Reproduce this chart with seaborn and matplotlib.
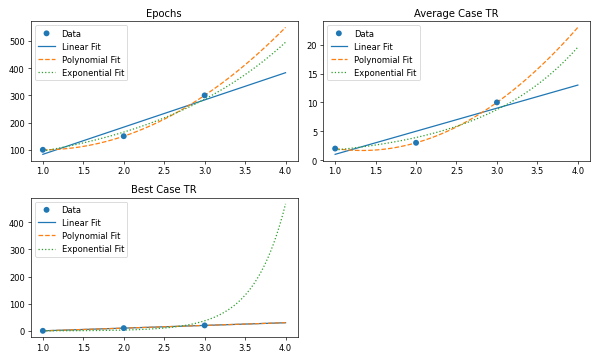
import matplotlib

matplotlib.use("Agg")
import matplotlib.pyplot as plt
import numpy as np
import pandas as pd
import seaborn as sns

X_DATA = [1, 2, 3]
EPOCHS = [100, 150, 300]
AVERAGE_CASE_TR = [2, 3, 10]
BEST_CASE_TR = [0.125, 10, 20]
TITLES = ["Epochs", "Average Case TR", "Best Case TR"]
X_MAX = 4


def fits(x, y):
    x = np.asarray(x, dtype=float)
    y = np.asarray(y, dtype=float)
    grid = np.linspace(x.min(), X_MAX, 100)
    linear = np.polyval(np.polyfit(x, y, 1), grid)
    poly = np.polyval(np.polyfit(x, y, 2), grid)
    b, log_a = np.polyfit(x, np.log(y), 1)
    expo = np.exp(log_a) * np.exp(b * grid)
    return pd.DataFrame(
        {"x": grid, "Linear Fit": linear, "Polynomial Fit": poly, "Exponential Fit": expo}
    )


def plot(axis, y, title):
    sns.scatterplot(x=X_DATA, y=y, ax=axis, color="C0", s=50, label="Data", zorder=3,
                    edgecolor="none")
    curves = fits(X_DATA, y)
    for name, color, style in (
        ("Linear Fit", "C0", "-"),
        ("Polynomial Fit", "C1", "--"),
        ("Exponential Fit", "C2", ":"),
    ):
        sns.lineplot(data=curves, x="x", y=name, ax=axis, color=color,
                     linestyle=style, label=name)
    axis.set(title=title, xlabel="", ylabel="")
    axis.legend(loc="upper left")


figure, axes = plt.subplots(2, 2, figsize=(9.983, 6.033), dpi=60)
for axis, series, title in zip(
    axes.flat, (EPOCHS, AVERAGE_CASE_TR, BEST_CASE_TR), TITLES
):
    plot(axis, series, title)
axes[1, 1].axis("off")

figure.tight_layout()
figure.savefig("out.png", dpi=60)
